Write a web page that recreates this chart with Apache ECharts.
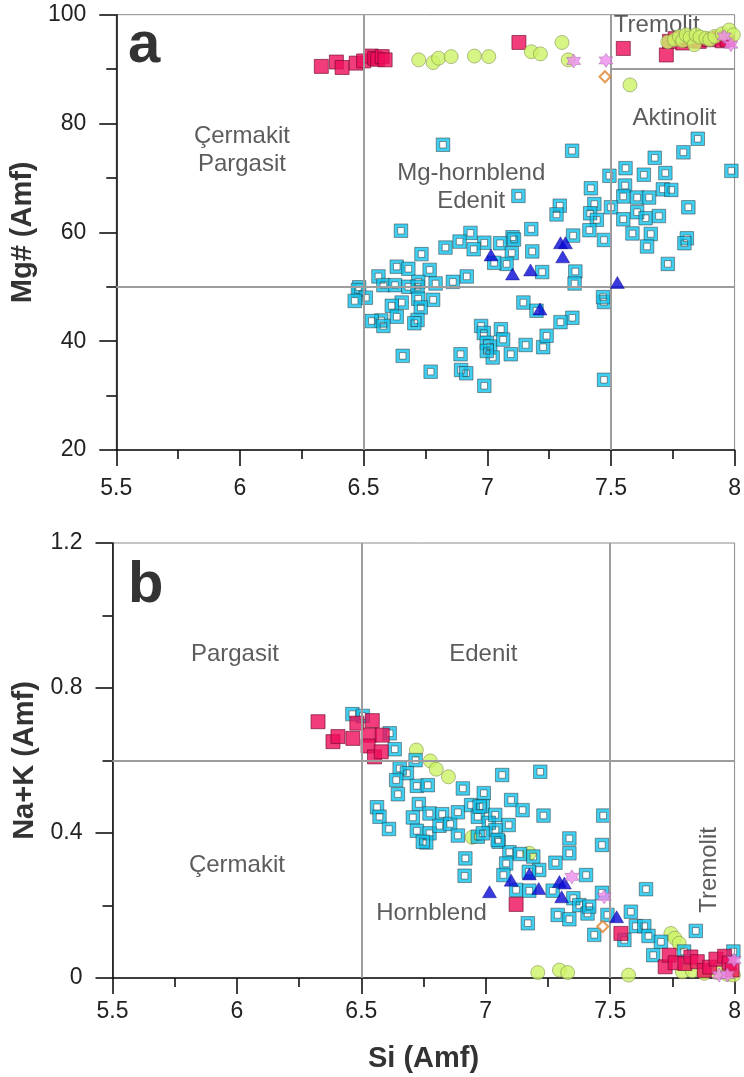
<!DOCTYPE html>
<html>
<head>
<meta charset="utf-8">
<script src="https://cdn.jsdelivr.net/npm/echarts@6.0.0/dist/echarts.min.js"></script>
<style>
  html, body { margin: 0; padding: 0; background: #fff; }
  #chart { width: 744px; height: 1077px; }
</style>
</head>
<body>
<div id="chart"></div>
<script>
// Amphibole classification: (a) Si vs Mg#, (b) Si vs Na+K, both in apfu.

// ---- axis ranges / ticks ----
const siRange = [5.5, 8];
const mgRange = [20, 100];
const nakRange = [0, 1.2];

// ---- field boundaries ----
const siBounds = [6.5, 7.5];
const mgBound = 50;
const tremolitMg = 90;
const nakBound = 0.6;

// ---- field names ----
const fieldsA = [
  { name: 'Tremolit', value: [7.685, 98.1] },
  { name: 'Aktinolit', value: [7.757, 81.0] },
  { name: 'Çermakit\nPargasit', value: [6.008, 75.1] },
  { name: 'Mg-hornblend\nEdenit', value: [6.935, 68.2] }
];
const fieldsB = [
  { name: 'Pargasit', value: [5.992, 0.894] },
  { name: 'Edenit', value: [6.99, 0.894] },
  { name: 'Çermakit', value: [6.0, 0.312] },
  { name: 'Hornblend', value: [6.782, 0.179] }
];
const fieldsBVertical = [
  { name: 'Tremolit', value: [7.898, 0.298] }
];

// ---- panel a: [Si, Mg#] ----
const redA = [
  [6.329, 90.5], [6.39, 91.3], [6.413, 90.3], [6.47, 91.1], [6.50, 91.5],
  [6.531, 92.4], [6.545, 92.0], [6.557, 91.8], [6.575, 92.3], [6.587, 91.7],
  [7.128, 94.9], [7.55, 93.8], [7.724, 92.6], [7.737, 95.1], [7.76, 95.6],
  [7.79, 94.8], [7.82, 95.3], [7.857, 95.1], [7.898, 95.4], [7.937, 95.7],
  [7.95, 95.2], [7.97, 95.4]
];
const greenA = [
  [6.723, 91.7], [6.781, 91.2], [6.803, 92.0], [6.854, 92.3], [6.948, 92.4],
  [7.006, 92.3], [7.178, 93.2], [7.215, 92.8], [7.302, 94.9], [7.327, 91.7],
  [7.577, 87.1], [7.73, 95.0], [7.757, 95.4], [7.777, 96.0], [7.79, 95.2],
  [7.804, 96.3], [7.82, 95.8], [7.837, 94.5], [7.844, 96.3], [7.86, 95.9],
  [7.884, 95.7], [7.90, 95.4], [7.92, 96.0], [7.95, 96.5], [7.978, 97.2],
  [7.995, 96.3]
];
const cyanA = [
  [6.821, 76.1], [7.343, 75.0], [7.851, 77.2], [7.793, 74.7], [7.677, 73.7],
  [7.987, 71.3], [7.559, 71.8], [7.494, 70.4], [7.633, 70.6], [7.720, 70.9],
  [7.419, 68.1], [7.557, 68.6], [7.710, 67.9], [7.744, 67.8], [7.126, 66.7],
  [7.550, 66.6], [7.606, 66.4], [7.654, 66.4], [7.293, 64.9], [7.280, 63.3],
  [7.433, 65.2], [7.500, 64.6], [7.416, 63.5], [7.443, 62.3], [7.550, 62.4],
  [7.606, 63.7], [7.640, 62.6], [7.694, 63.0], [7.813, 64.6], [7.587, 59.8],
  [7.661, 59.7], [7.646, 57.4], [7.807, 58.9], [7.797, 58.0], [7.730, 54.2],
  [7.413, 60.4], [7.472, 58.6], [7.347, 59.4], [7.178, 60.6], [7.102, 59.1],
  [7.052, 58.0], [6.988, 58.1], [6.932, 59.9], [6.945, 56.9], [6.888, 58.3],
  [6.831, 57.2], [6.734, 56.0], [6.651, 60.3], [7.182, 56.5], [7.099, 56.2],
  [7.078, 54.2], [7.028, 54.4], [7.222, 52.7], [7.356, 52.8], [7.353, 50.6],
  [6.634, 53.7], [6.681, 53.3], [6.767, 53.1], [6.721, 50.9], [6.791, 50.6],
  [6.861, 50.9], [6.917, 51.9], [6.560, 51.9], [6.580, 50.3], [6.482, 49.9],
  [7.108, 58.7], [6.477, 49.4], [6.509, 48.0], [6.464, 47.4], [6.627, 50.3],
  [6.681, 50.0], [6.718, 50.0], [6.721, 47.8], [6.781, 47.6], [6.654, 47.1],
  [6.614, 46.5], [6.731, 46.2], [6.634, 44.5], [6.571, 43.8], [6.533, 43.7],
  [6.580, 42.8], [6.718, 43.9], [6.705, 43.3], [7.146, 47.1], [7.199, 45.6],
  [6.975, 42.8], [6.986, 41.5], [7.055, 42.2], [6.998, 39.7], [7.012, 39.0],
  [7.064, 40.3], [7.022, 37.0], [6.998, 38.2], [7.095, 37.6], [7.155, 39.3],
  [7.226, 38.9], [7.240, 41.0], [6.892, 37.6], [6.658, 37.3], [6.771, 34.4],
  [6.894, 34.7], [6.915, 34.1], [6.988, 31.8], [7.472, 32.9], [7.472, 47.2],
  [7.468, 48.1], [7.344, 44.3], [7.296, 43.5]
];
const triSi = [7.015, 7.102, 7.175, 7.213, 7.296, 7.316, 7.305, 7.526];
const triMg = [55.85, 52.35, 53.1, 45.9, 58.1, 58.1, 55.5, 50.8];
const starA = [[7.349, 91.5], [7.48, 91.6], [7.958, 96.0], [7.985, 94.5]];
const diamondA = [[7.476, 88.6]];

// ---- panel b: [Si, Na+K] ----
const redB = [
  [6.326, 0.707], [6.386, 0.652], [6.406, 0.666], [6.466, 0.661], [6.482, 0.703],
  [6.544, 0.710], [6.533, 0.670], [6.584, 0.670], [6.527, 0.640], [6.553, 0.610],
  [6.580, 0.624], [7.122, 0.203], [7.543, 0.123], [7.721, 0.031], [7.737, 0.063],
  [7.761, 0.042], [7.80, 0.040], [7.824, 0.058], [7.85, 0.045], [7.878, 0.021],
  [7.90, 0.030], [7.925, 0.052], [7.96, 0.060], [7.978, 0.041], [7.990, 0.022]
];
const greenB = [
  [6.721, 0.629], [6.777, 0.599], [6.801, 0.576], [6.850, 0.555], [6.945, 0.388],
  [7.175, 0.344], [7.209, 0.015], [7.296, 0.022], [7.329, 0.015], [7.574, 0.008],
  [7.744, 0.123], [7.76, 0.110], [7.777, 0.096], [7.79, 0.017], [7.83, 0.020],
  [7.878, 0.013], [7.93, 0.015], [7.97, 0.010], [7.995, 0.008]
];
const cyanB = [
  [6.464, 0.728], [6.506, 0.723], [6.614, 0.675], [6.634, 0.631], [6.718, 0.601],
  [6.654, 0.578], [6.683, 0.565], [6.640, 0.546], [6.647, 0.507], [6.723, 0.530],
  [6.767, 0.532], [6.563, 0.471], [6.573, 0.445], [6.611, 0.411], [6.731, 0.480],
  [6.707, 0.443], [6.774, 0.454], [6.825, 0.452], [6.723, 0.406], [6.774, 0.399],
  [6.761, 0.374], [6.814, 0.420], [6.857, 0.425], [6.888, 0.393], [6.888, 0.457],
  [6.908, 0.523], [6.941, 0.477], [6.992, 0.510], [6.988, 0.474], [6.968, 0.445],
  [7.012, 0.428], [7.038, 0.450], [7.092, 0.422], [7.066, 0.560], [7.219, 0.569],
  [7.102, 0.491], [7.148, 0.463], [7.232, 0.448], [6.968, 0.390], [7.039, 0.408],
  [7.052, 0.376], [6.918, 0.330], [6.915, 0.282], [7.095, 0.347], [7.082, 0.316],
  [7.138, 0.342], [7.191, 0.335], [7.215, 0.298], [7.173, 0.293], [7.280, 0.318],
  [7.071, 0.284], [7.122, 0.243], [7.175, 0.241], [7.269, 0.241], [7.472, 0.448],
  [6.747, 0.376], [6.975, 0.473], [6.988, 0.399], [7.048, 0.381], [7.336, 0.385],
  [7.336, 0.344], [7.403, 0.284], [7.467, 0.367], [7.467, 0.235], [7.352, 0.220],
  [7.289, 0.174], [7.336, 0.162], [7.376, 0.201], [7.409, 0.178], [7.416, 0.197],
  [7.169, 0.151], [7.436, 0.119], [7.489, 0.174], [7.557, 0.105], [7.583, 0.183],
  [7.603, 0.143], [7.637, 0.143], [7.654, 0.116], [7.704, 0.100], [7.644, 0.245],
  [7.844, 0.130], [7.673, 0.063], [7.797, 0.073], [7.995, 0.073]
];
const triNaK = [0.238, 0.270, 0.287, 0.247, 0.266, 0.262, 0.224, 0.169];
const starB = [[7.346, 0.279], [7.476, 0.224], [7.998, 0.050], [7.938, 0.008], [7.971, 0.008]];
const diamondB = [[7.47, 0.142]];

// ---- marker shapes ----
const hollowSquare = 'path://M0,0L10,0L10,10L0,10Z M2.6,2.6L2.6,7.4L7.4,7.4L7.4,2.6Z';
const sixStar = 'path://M0,-10L2.9,-5L8.66,-5L5.77,0L8.66,5L2.9,5L0,10L-2.9,5L-8.66,5L-5.77,0L-8.66,-5L-2.9,-5Z';

const FONT = "'Liberation Sans', Arial, sans-serif";
const INK = '#111';

function xAxisFor(gridIndex, withName, labelMargin) {
  return {
    gridIndex, type: 'value', min: siRange[0], max: siRange[1], interval: 0.5,
    axisLine: { show: true, onZero: false, lineStyle: { color: INK, width: 1.6 } },
    axisTick: { show: true, inside: false, length: 16, lineStyle: { color: INK, width: 1.6 } },
    minorTick: { show: true, splitNumber: 2, length: 9, lineStyle: { color: INK, width: 1.6 } },
    axisLabel: { fontSize: 23, color: '#222', fontFamily: FONT, margin: labelMargin },
    splitLine: { show: false },
    name: withName ? 'Si (Amf)' : '',
    nameLocation: 'middle', nameGap: 66,
    nameTextStyle: { fontSize: 29, fontWeight: 'bold', color: '#333', fontFamily: FONT }
  };
}
function yAxisFor(gridIndex, range, interval, name) {
  return {
    gridIndex, type: 'value', min: range[0], max: range[1], interval,
    axisLine: { show: true, onZero: false, lineStyle: { color: INK, width: 1.6 } },
    axisTick: { show: true, inside: false, length: 17, lineStyle: { color: INK, width: 1.6 } },
    minorTick: { show: true, splitNumber: 2, length: 10, lineStyle: { color: INK, width: 1.6 } },
    axisLabel: { fontSize: 23, color: '#222', fontFamily: FONT, margin: 30 },
    splitLine: { show: false },
    name, nameLocation: 'middle', nameGap: 66, nameRotate: 90,
    nameTextStyle: { fontSize: 29, fontWeight: 'bold', color: '#333', fontFamily: FONT }
  };
}

const boundaryStyle = { color: '#9d9d9d', width: 2, type: 'solid' };
function seg(a, b) { return [{ coord: a }, { coord: b }]; }

function fieldSeries(idx, data, lines, rotate) {
  return {
    type: 'scatter', xAxisIndex: idx, yAxisIndex: idx, z: 1,
    data, symbolSize: 0, silent: true,
    label: {
      show: true, position: 'inside', formatter: '{b}', rotate: rotate || 0,
      fontSize: 24, lineHeight: 28, color: '#333', fontFamily: FONT, align: 'center'
    },
    markLine: lines ? {
      silent: true, symbol: ['none', 'none'], label: { show: false },
      lineStyle: boundaryStyle, animation: false, data: lines
    } : undefined
  };
}

function pointSeries(idx, data, kind, z) {
  const base = { type: 'scatter', xAxisIndex: idx, yAxisIndex: idx, data, z, animation: false };
  if (kind === 'red') return Object.assign(base, { symbol: 'rect', symbolSize: 14,
    itemStyle: { color: '#EE0D5B', borderColor: '#6d0a2a', borderWidth: 0.8 } });
  if (kind === 'green') return Object.assign(base, { symbol: 'circle', symbolSize: 14,
    itemStyle: { color: '#CCF267', borderColor: '#7d8c4a', borderWidth: 0.7 } });
  if (kind === 'cyan') return Object.assign(base, { symbol: hollowSquare, symbolSize: 13.5,
    itemStyle: { color: '#12C3EE', borderColor: '#2a2a2a', borderWidth: 0.6 } });
  if (kind === 'tri') return Object.assign(base, { symbol: 'triangle', symbolSize: [14, 12],
    itemStyle: { color: '#0707D6', borderColor: '#00007a', borderWidth: 0.5 } });
  if (kind === 'star') return Object.assign(base, { symbol: sixStar, symbolSize: 14,
    itemStyle: { color: '#EE8CEE', borderColor: '#a25ca2', borderWidth: 0.6 } });
  if (kind === 'diamond') return Object.assign(base, { symbol: 'diamond', symbolSize: 11,
    itemStyle: { color: '#ffffff', borderColor: '#E0822A', borderWidth: 2 } });
}

const triA = triSi.map((s, i) => [s, triMg[i]]);
const triB = triSi.map((s, i) => [s, triNaK[i]]);

const linesA = [
  seg([siBounds[0], mgRange[0]], [siBounds[0], mgRange[1]]),
  seg([siBounds[1], mgRange[0]], [siBounds[1], mgRange[1]]),
  seg([siRange[0], mgBound], [siRange[1], mgBound]),
  seg([siBounds[1], tremolitMg], [siRange[1], tremolitMg])
];
const linesB = [
  seg([siBounds[0], nakRange[0]], [siBounds[0], nakRange[1]]),
  seg([siBounds[1], nakRange[0]], [siBounds[1], nakRange[1]]),
  seg([siRange[0], nakBound], [siRange[1], nakBound])
];

const chart = echarts.init(document.getElementById('chart'), null, { renderer: 'canvas' });
chart.setOption({
  animation: false,
  backgroundColor: '#ffffff',
  title: [
    { text: 'a', left: 123, top: 12, textStyle: { fontSize: 58, fontWeight: 'bold', color: '#333', fontFamily: FONT } },
    { text: 'b', left: 123, top: 552, textStyle: { fontSize: 58, fontWeight: 'bold', color: '#333', fontFamily: FONT } }
  ],
  grid: [
    { left: 112.5, right: 8.5, top: 14.7, height: 435.3, show: true, borderColor: '#8a8a8a', borderWidth: 1, backgroundColor: 'transparent' },
    { left: 112.5, right: 8.5, top: 543, height: 435, show: true, borderColor: '#8a8a8a', borderWidth: 1, backgroundColor: 'transparent' }
  ],
  xAxis: [xAxisFor(0, false, 27), xAxisFor(1, true, 22)],
  yAxis: [
    yAxisFor(0, mgRange, 20, 'Mg# (Amf)'),
    yAxisFor(1, nakRange, 0.4, 'Na+K (Amf)')
  ],
  series: [
    fieldSeries(0, fieldsA, linesA),
    pointSeries(0, redA, 'red', 2),
    pointSeries(0, greenA, 'green', 3),
    pointSeries(0, cyanA, 'cyan', 4),
    pointSeries(0, triA, 'tri', 5),
    pointSeries(0, starA, 'star', 6),
    pointSeries(0, diamondA, 'diamond', 6),

    fieldSeries(1, fieldsB, linesB),
    fieldSeries(1, fieldsBVertical, null, 90),
    pointSeries(1, greenB, 'green', 2),
    pointSeries(1, cyanB, 'cyan', 3),
    pointSeries(1, redB, 'red', 4),
    pointSeries(1, triB, 'tri', 5),
    pointSeries(1, starB, 'star', 6),
    pointSeries(1, diamondB, 'diamond', 6)
  ]
});
</script>
</body>
</html>
